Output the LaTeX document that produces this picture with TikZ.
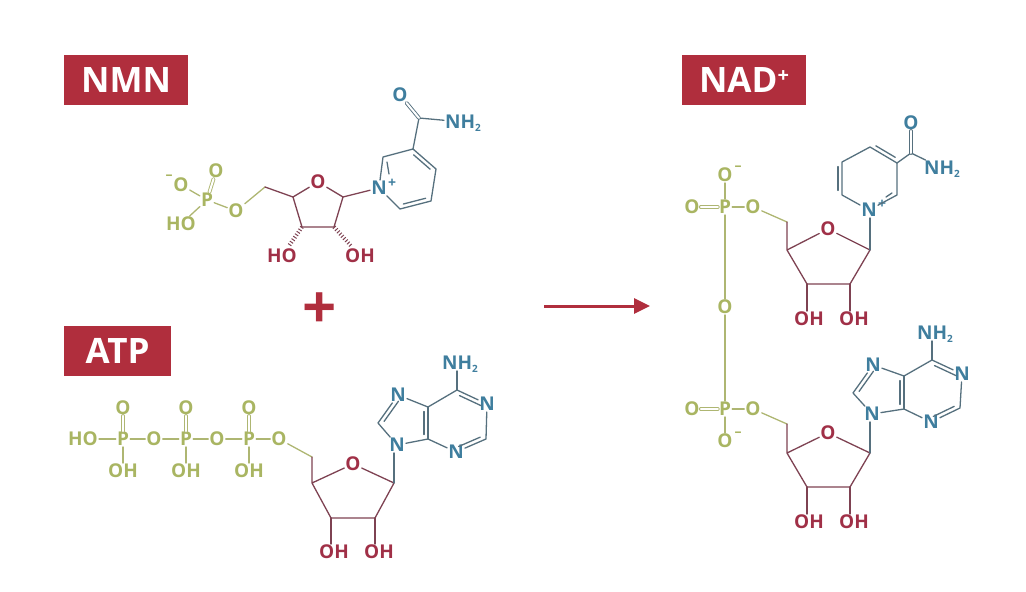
\documentclass[tikz,border=0pt]{standalone}
\usepackage{fontspec}
\setmainfont{Open Sans}
\usetikzlibrary{positioning, arrows.meta, calc}
\definecolor{molred}{HTML}{A03047}
\definecolor{molblue}{HTML}{3F7E9E}
\definecolor{molgreen}{HTML}{A9B562}
\definecolor{tagred}{HTML}{B02E3D}
\definecolor{bondred}{HTML}{7E4252}
\definecolor{bondblue}{HTML}{56707E}
\definecolor{bondgreen}{HTML}{AEB672}
\tikzset{
  >={Triangle[length=16pt, width=15pt]},
  tag/.style={fill=tagred, text=white, font=\fontsize{35}{35}\selectfont\bfseries, minimum height=50pt, inner sep=0pt, text height=25pt, text depth=0pt},
  atom/.style={font=\fontsize{19}{19}\selectfont\bfseries, inner sep=1pt, text height=13.5pt, text depth=0pt},
  atomred/.style={atom, text=molred},
  atomblue/.style={atom, text=molblue},
  atomgreen/.style={atom, text=molgreen},
  bondr/.style={draw=bondred, line width=1.3pt, line cap=round, line join=round},
  bondb/.style={draw=bondblue, line width=1.3pt, line cap=round, line join=round},
  bondg/.style={draw=bondgreen, line width=1.3pt, line cap=round, line join=round},
  dblg/.style={bondg, double, double distance=2pt, line width=.9pt},
  dblb/.style={bondb, double, double distance=2pt, line width=.9pt},
  hashbond/.style={draw=bondred, line width=4pt, dash pattern=on 1pt off 2pt, shorten >=3pt},
  charge/.style={font=\fontsize{14}{14}\selectfont\bfseries, inner sep=0pt},
}
% inner line of a double bond: style, from, to, offset
\newcommand{\inbond}[4]{\draw[#1] ($(#2)!.14!(#3)!#4!90:(#3)$) -- ($(#3)!.14!(#2)!#4!-90:(#2)$);}
\newcommand{\nhtwo}{NH\raisebox{-2.5pt}{\fontsize{10}{10}\selectfont 2}}
\begin{document}
\begin{tikzpicture}[x=1pt, y=-1pt]
  \useasboundingbox (0,0) rectangle (1026,592);
  % labels
  \node[tag, minimum width=124pt] (tagnmn) at (126,80) {NMN};
  \node[tag, minimum width=107pt] (tagatp) at (117.5,351) {ATP};
  \node[tag, minimum width=124pt] (tagnad) at (744,80) {NAD\raisebox{10pt}{\fontsize{20}{20}\selectfont +}};
  \node[font=\fontsize{60}{60}\selectfont\bfseries, text=tagred, inner sep=0pt] (plus) at (320,311) {+};
  \coordinate (arrowa) at (544,306);
  \coordinate (arrowb) at (650,306);
  \draw[->, draw=tagred, fill=tagred, line width=3pt] (arrowa) -- (arrowb);

  % NMN
  \node[atomgreen] (nmnOm) at (181,185) {O};
  \node[charge, text=molgreen] (nmnminus) at (169,177) {\textendash};
  \node[atomgreen] (nmnP) at (207,200) {P};
  \node[atomgreen] (nmnOt) at (216,171) {O};
  \node[atomgreen] (nmnHO) at (181,224) {HO};
  \node[atomgreen] (nmnOe) at (236,211) {O};
  \coordinate (nmnCH) at (265,187);
  \coordinate (nmnC4) at (293,197);
  \node[atomred] (nmnO) at (318,182) {O};
  \coordinate (nmnC1) at (343,197);
  \coordinate (nmnC2) at (334,227);
  \coordinate (nmnC3) at (302,227);
  \node[atomred] (nmnHOa) at (282,256) {HO};
  \node[atomred] (nmnOHa) at (360,256) {OH};
  \node[atomblue] (nmnN) at (379,188) {N};
  \node[charge, text=molblue] (nmnNp) at (392,183) {+};
  \coordinate (nmnR2) at (383,157);
  \coordinate (nmnR3) at (413,149);
  \coordinate (nmnR4) at (436,169);
  \coordinate (nmnR5) at (431,201);
  \coordinate (nmnR6) at (400,209);
  \coordinate (nmnCO) at (419,118);
  \coordinate (nmnDa) at (389,174);
  \coordinate (nmnDb) at (387,162);
  \node[atomblue] (nmnOc) at (400,95) {O};
  \node[atomblue] (nmnNH) at (463,122) {\nhtwo};
  \draw[bondg] (nmnOm) -- (nmnP);
  \draw[bondg] (nmnHO) -- (nmnP);
  \draw[bondg] (nmnP) -- (nmnOe);
  \draw[bondg] (nmnOe) -- (nmnCH);
  \draw[dblg] (nmnP) -- (nmnOt);
  \draw[bondr] (nmnCH) -- (nmnC4) -- (nmnO);
  \draw[bondr] (nmnO) -- (nmnC1) -- (nmnC2) -- (nmnC3) -- (nmnC4);
  \draw[hashbond] (nmnC3) -- (nmnHOa);
  \draw[hashbond] (nmnC2) -- (nmnOHa);
  \draw[bondr] (nmnC1) -- (nmnN);
  \draw[bondb] (nmnN) -- (nmnR2) -- (nmnR3) -- (nmnR4) -- (nmnR5) -- (nmnR6) -- (nmnN);
  \inbond{bondb}{nmnR3}{nmnR4}{-4pt}
  \inbond{bondb}{nmnR5}{nmnR6}{-4pt}
  \draw[bondb] (nmnDa) -- (nmnDb);
  \draw[bondb] (nmnR3) -- (nmnCO) -- (nmnNH);
  \draw[dblb] (nmnCO) -- (nmnOc);

  % ATP
  \node[atomgreen] (atpHO) at (83,439) {HO};
  \foreach \name/\px/\ox in {a/123/154, b/186/217, c/249/279} {
    \node[atomgreen] (atpP\name) at (\px,439) {P};
    \node[atomgreen] (atpT\name) at (\px,408) {O};
    \node[atomgreen] (atpH\name) at (\px,471) {OH};
    \node[atomgreen] (atpO\name) at (\ox,439) {O};
    \draw[dblg] (atpP\name) -- (atpT\name);
    \draw[bondg] (atpP\name) -- (atpH\name);
    \draw[bondg] (atpP\name) -- (atpO\name);
  }
  \draw[bondg] (atpHO) -- (atpPa);
  \draw[bondg] (atpOa) -- (atpPb);
  \draw[bondg] (atpOb) -- (atpPc);
  \coordinate (atpCH) at (312,457);
  \coordinate (atpC4) at (312,483);
  \node[atomred] (atpO) at (353,464) {O};
  \coordinate (atpC1) at (394,483);
  \coordinate (atpC2) at (375,518);
  \coordinate (atpC3) at (331,518);
  \node[atomred] (atpOHa) at (334,552) {OH};
  \node[atomred] (atpOHb) at (379,552) {OH};
  \draw[bondg] (atpOc) -- (atpCH);
  \draw[bondr] (atpCH) -- (atpC4) -- (atpO) -- (atpC1) -- (atpC2) -- (atpC3) -- (atpC4);
  \draw[bondr] (atpC3) -- (atpC3 |- atpOHa.north);
  \draw[bondr] (atpC2) -- (atpC2 |- atpOHb.north);
  \node[atomblue] (atpN9) at (397,445) {N};
  \node[atomblue] (atpN7) at (398,395) {N};
  \coordinate (atpC8) at (378,423);
  \coordinate (atpCd) at (428,439);
  \coordinate (atpCe) at (428,407);
  \coordinate (atpCf) at (457,390);
  \node[atomblue] (atpNH) at (460,363) {\nhtwo};
  \node[atomblue] (atpN1) at (487,404) {N};
  \coordinate (atpCb) at (486,439);
  \node[atomblue] (atpN3) at (456,452) {N};
  \draw[bondb] (atpC1) -- (atpC1 |- atpN9.south);
  \draw[bondb] (atpN9) -- (atpC8) -- (atpN7) -- (atpCe) -- (atpCf) -- (atpN1) -- (atpCb) -- (atpN3) -- (atpCd) -- (atpN9);
  \draw[bondb] (atpCd) -- (atpCe);
  \draw[bondb] (atpCf) -- (atpCf |- atpNH.south);
  \inbond{bondb}{atpCd}{atpCe}{4pt}
  \inbond{bondb}{atpCf}{atpN1}{-4pt}
  \inbond{bondb}{atpCb}{atpN3}{-4pt}
  \inbond{bondb}{atpC8}{atpN7}{-4pt}

  % NAD+
  \node[atomgreen] (nadOmt) at (725,175) {O};
  \node[charge, text=molgreen] (nadminust) at (738,168) {\textendash};
  \node[atomgreen] (nadPt) at (725,207) {P};
  \node[atomgreen] (nadOlt) at (692,207) {O};
  \node[atomgreen] (nadOet) at (753,207) {O};
  \node[atomgreen] (nadObr) at (725,307) {O};
  \node[atomgreen] (nadPb) at (725,409) {P};
  \node[atomgreen] (nadOlb) at (692,409) {O};
  \node[atomgreen] (nadOeb) at (753,409) {O};
  \node[atomgreen] (nadOmb) at (725,441) {O};
  \node[charge, text=molgreen] (nadminusb) at (738,434) {\textendash};
  \draw[bondg] (nadOmt) -- (nadPt) -- (nadOet);
  \draw[bondg] (nadPt) -- (nadObr) -- (nadPb) -- (nadOeb);
  \draw[bondg] (nadPb) -- (nadOmb);
  \draw[dblg] (nadOlt) -- (nadPt);
  \draw[dblg] (nadOlb) -- (nadPb);
  % upper ribose
  \coordinate (nadCHt) at (787,222);
  \coordinate (nadC4t) at (787,250);
  \node[atomred] (nadOt) at (828,229) {O};
  \coordinate (nadC1t) at (870,250);
  \coordinate (nadC2t) at (850,284);
  \coordinate (nadC3t) at (807,284);
  \node[atomred] (nadOHa) at (809,319) {OH};
  \node[atomred] (nadOHb) at (854,319) {OH};
  \draw[bondg] (nadOet) -- (nadCHt);
  \draw[bondr] (nadCHt) -- (nadC4t) -- (nadOt) -- (nadC1t) -- (nadC2t) -- (nadC3t) -- (nadC4t);
  \draw[bondr] (nadC3t) -- (nadC3t |- nadOHa.north);
  \draw[bondr] (nadC2t) -- (nadC2t |- nadOHb.north);
  % pyridinium
  \node[atomblue] (nadN) at (869,210) {N};
  \node[charge, text=molblue] (nadNp) at (882,204) {+};
  \coordinate (nadR2) at (897,195);
  \coordinate (nadR3) at (897,163);
  \coordinate (nadR4) at (870,147);
  \coordinate (nadR5) at (842,162);
  \coordinate (nadR6) at (842,195);
  \coordinate (nadCO) at (911,153);
  \coordinate (nadDa) at (886,197);
  \coordinate (nadDb) at (892,193);
  \node[atomblue] (nadOc) at (911,123) {O};
  \node[atomblue] (nadNH) at (942,168) {\nhtwo};
  \draw[bondb] (nadC1t) -- (nadC1t |- nadN.south);
  \draw[bondb] (nadN) -- (nadR2) -- (nadR3) -- (nadR4) -- (nadR5) -- (nadR6) -- (nadN);
  \inbond{bondb}{nadR3}{nadR4}{-4pt}
  \inbond{bondb}{nadR5}{nadR6}{-4pt}
  \draw[bondb] (nadDa) -- (nadDb);
  \draw[bondb] (nadR3) -- (nadCO) -- (nadNH);
  \draw[dblb] (nadCO) -- (nadOc);
  % lower ribose
  \coordinate (nadCHb) at (787,424);
  \coordinate (nadC4b) at (787,453);
  \node[atomred] (nadOb) at (828,433) {O};
  \coordinate (nadC1b) at (870,453);
  \coordinate (nadC2b) at (850,487);
  \coordinate (nadC3b) at (807,487);
  \node[atomred] (nadOHc) at (809,522) {OH};
  \node[atomred] (nadOHd) at (854,522) {OH};
  \draw[bondg] (nadOeb) -- (nadCHb);
  \draw[bondr] (nadCHb) -- (nadC4b) -- (nadOb) -- (nadC1b) -- (nadC2b) -- (nadC3b) -- (nadC4b);
  \draw[bondr] (nadC3b) -- (nadC3b |- nadOHc.north);
  \draw[bondr] (nadC2b) -- (nadC2b |- nadOHd.north);
  % adenine
  \node[atomblue] (nadN9) at (872,414) {N};
  \node[atomblue] (nadN7) at (873,365) {N};
  \coordinate (nadC8) at (853,393);
  \coordinate (nadCd) at (904,409);
  \coordinate (nadCe) at (904,376);
  \coordinate (nadCf) at (932,360);
  \node[atomblue] (nadNHb) at (935,333) {\nhtwo};
  \node[atomblue] (nadN1) at (962,374) {N};
  \coordinate (nadCb) at (960,408);
  \node[atomblue] (nadN3) at (931,422) {N};
  \draw[bondb] (nadC1b) -- (nadC1b |- nadN9.south);
  \draw[bondb] (nadN9) -- (nadC8) -- (nadN7) -- (nadCe) -- (nadCf) -- (nadN1) -- (nadCb) -- (nadN3) -- (nadCd) -- (nadN9);
  \draw[bondb] (nadCd) -- (nadCe);
  \draw[bondb] (nadCf) -- (nadCf |- nadNHb.south);
  \inbond{bondb}{nadCd}{nadCe}{4pt}
  \inbond{bondb}{nadCf}{nadN1}{-4pt}
  \inbond{bondb}{nadCb}{nadN3}{-4pt}
  \inbond{bondb}{nadC8}{nadN7}{-4pt}
\end{tikzpicture}
\end{document}
